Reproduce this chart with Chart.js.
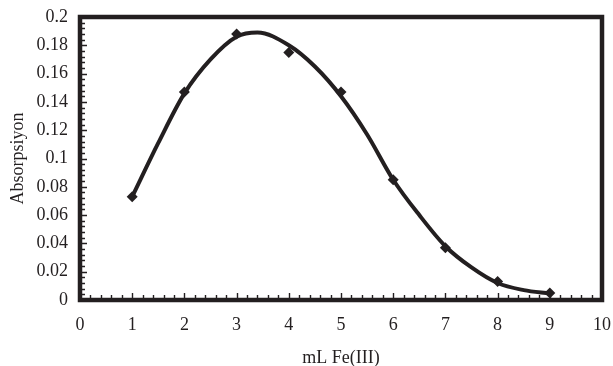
<!DOCTYPE html>
<html>
<head>
<meta charset="utf-8">
<script src="https://cdn.jsdelivr.net/npm/chart.js@4"></script>
<style>
  html, body { margin: 0; padding: 0; background: #fff; }
  #wrap { width: 613px; height: 366px; }
</style>
</head>
<body>
<div id="wrap"><canvas id="absChart" width="613" height="366"></canvas></div>
<script>
// measured points (mL Fe(III) vs absorbance)
const volumes = [1, 2, 3, 4, 5, 6, 7, 8, 9];
const absorbance = [0.073, 0.147, 0.188, 0.175, 0.147, 0.085, 0.037, 0.013, 0.005];

// fitted curve
const curveX = [1, 1.5, 2, 2.5, 3, 3.4, 4, 4.5, 5, 5.5, 6, 6.5, 7, 7.5, 8, 8.5, 9];
const curveY = [0.073, 0.111, 0.146, 0.170, 0.186, 0.189, 0.180, 0.165, 0.144, 0.117, 0.085, 0.060, 0.038, 0.023, 0.012, 0.007, 0.0045];

const xTitle = 'mL Fe(III)';
const yTitle = 'Absorpsiyon';

const ink = '#231f20';
const fontFam = '"Liberation Serif", "Times New Roman", serif';

// frame + inward tick marks like the excel original
const framePlugin = {
    id: 'framePlugin',
    afterDraw(chart) {
        const { ctx, chartArea: a, scales: { x, y } } = chart;
        ctx.save();
        ctx.strokeStyle = ink;
        ctx.lineWidth = 1.4;
        ctx.beginPath();
        for (let i = 0; i <= 50; i++) {
            const px = Math.round(x.getPixelForValue(i * 0.2)) + 0.5;
            const len = i % 5 === 0 ? 7 : 5;
            ctx.moveTo(px, a.bottom);
            ctx.lineTo(px, a.bottom - len);
        }
        for (let i = 0; i <= 50; i++) {
            const py = Math.round(y.getPixelForValue(i * 0.004)) + 0.5;
            const len = i % 5 === 0 ? 7 : 5;
            ctx.moveTo(a.left, py);
            ctx.lineTo(a.left + len, py);
        }
        ctx.stroke();

        ctx.lineWidth = 4.5;
        ctx.strokeRect(a.left, a.top, a.right - a.left, a.bottom - a.top);
        ctx.restore();
    }
};

const ctx = document.getElementById('absChart').getContext('2d');
new Chart(ctx, {
    type: 'scatter',
    data: {
        datasets: [
            {
                label: 'fit',
                data: curveX.map((v, i) => ({ x: v, y: curveY[i] })),
                showLine: true,
                borderColor: ink,
                borderWidth: 4,
                pointRadius: 0,
                cubicInterpolationMode: 'monotone',
                order: 2
            },
            {
                label: 'data',
                data: volumes.map((v, i) => ({ x: v, y: absorbance[i] })),
                showLine: false,
                pointStyle: 'rectRot',
                pointRadius: 5.5,
                backgroundColor: ink,
                borderColor: ink,
                borderWidth: 0,
                order: 1
            }
        ]
    },
    options: {
        responsive: false,
        animation: false,
        layout: { padding: { left: 0, top: 17, right: 11, bottom: 0 } },
        plugins: {
            legend: { display: false },
            tooltip: { enabled: false }
        },
        scales: {
            x: {
                type: 'linear',
                min: 0,
                max: 10,
                grid: { display: false, drawTicks: false },
                border: { display: false },
                ticks: {
                    stepSize: 1,
                    padding: 14,
                    color: ink,
                    maxRotation: 0,
                    font: { family: fontFam, size: 18 }
                },
                title: {
                    display: true,
                    text: xTitle,
                    color: ink,
                    padding: { top: 0, bottom: -3 },
                    font: { family: fontFam, size: 18 }
                },
                afterFit(scale) {
                    scale.height = 66;
                    scale.paddingLeft = 0;
                    scale.paddingRight = 0;
                }
            },
            y: {
                min: 0,
                max: 0.2,
                grid: { display: false, drawTicks: false },
                border: { display: false },
                ticks: {
                    stepSize: 0.02,
                    padding: 12,
                    color: ink,
                    font: { family: fontFam, size: 18 },
                    callback: function (value) {
                        return String(+value.toFixed(3));
                    }
                },
                title: {
                    display: true,
                    text: yTitle,
                    color: ink,
                    padding: { top: 7, bottom: 0 },
                    font: { family: fontFam, size: 18 }
                },
                afterFit(scale) {
                    scale.width = 80;
                    scale.paddingTop = 0;
                    scale.paddingBottom = 0;
                }
            }
        }
    },
    plugins: [framePlugin]
});
</script>
</body>
</html>
